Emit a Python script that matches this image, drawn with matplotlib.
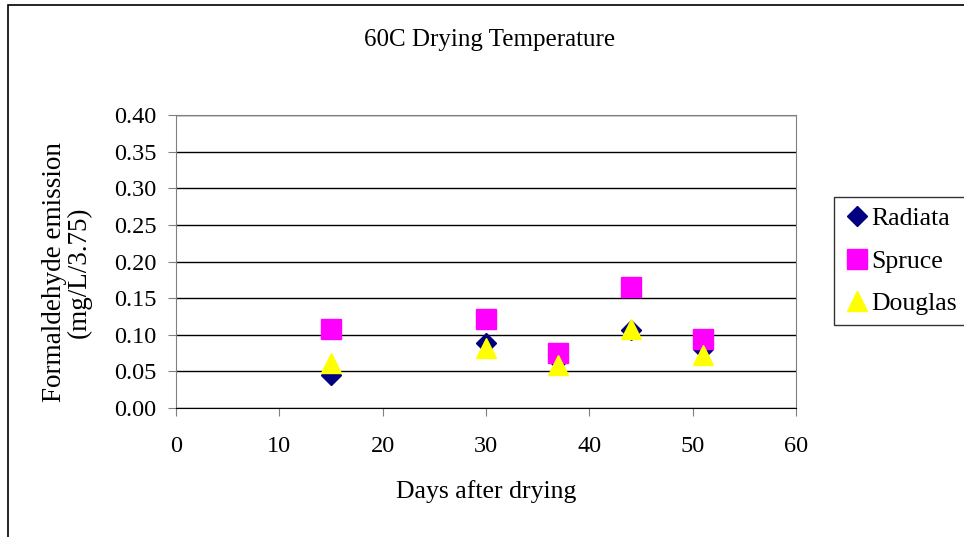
import matplotlib.pyplot as plt
from matplotlib.patches import Rectangle

plt.rcParams['font.family'] = ['Liberation Serif', 'DejaVu Serif']

days = [15, 30, 37, 44, 51]
radiata = [0.045, 0.089, 0.066, 0.106, 0.080]
spruce = [0.108, 0.121, 0.075, 0.165, 0.094]
douglas = [0.061, 0.082, 0.059, 0.108, 0.072]

fig = plt.figure(figsize=(9.64, 5.37), dpi=100)
ax = fig.add_axes([176 / 964, 1 - 408 / 537, 620 / 964, 293 / 537])

ax.plot(days, radiata, 'D', color='#000080', markersize=10, label='Radiata', zorder=3)
ax.plot(days, spruce, 's', color='#FF00FF', markersize=14, label='Spruce', zorder=4)
ax.plot(days, douglas, '^', color='#FFFF00', markersize=15, label='Douglas', zorder=5)

ax.set_xlim(0, 60)
ax.set_ylim(0, 0.40)
ax.set_xticks(range(0, 61, 10))
ax.set_yticks([i * 0.05 for i in range(9)])
ax.set_yticklabels(['%.2f' % (i * 0.05) for i in range(9)])
ax.yaxis.grid(True, color='black', linewidth=1)
ax.set_axisbelow(True)
for s in ax.spines.values():
    s.set_color('#808080')
ax.spines['bottom'].set_color('black')
ax.tick_params(direction='out', length=6, color='#808080', labelsize=17.5, pad=8)
ax.tick_params(axis='x', pad=14)

fig.text(490 / 964, 1 - 40 / 537, '60C Drying Temperature', ha='center', va='center', fontsize=18)
fig.text(486 / 964, 1 - 492 / 537, 'Days after drying', ha='center', va='center', fontsize=18.5)
fig.text(67 / 964, 1 - 272 / 537, 'Formaldehyde emission\n(mg/L/3.75)', ha='center', va='center',
         rotation=90, fontsize=19.5, linespacing=1.0)

leg = fig.legend(loc='upper left', bbox_to_anchor=(834 / 964, 1 - 197 / 537), fontsize=18.5,
                 frameon=True, fancybox=False, edgecolor='black', handletextpad=0.05,
                 handlelength=1.0, borderpad=0.4, labelspacing=0.75, borderaxespad=0)
leg.get_frame().set_linewidth(1)

fig.patches.append(Rectangle((8 / 964, -0.1), 1.1, 1 - 5 / 537 + 0.1, transform=fig.transFigure,
                             fill=False, edgecolor='black', linewidth=1.2))

fig.savefig('out.png', dpi=100)
